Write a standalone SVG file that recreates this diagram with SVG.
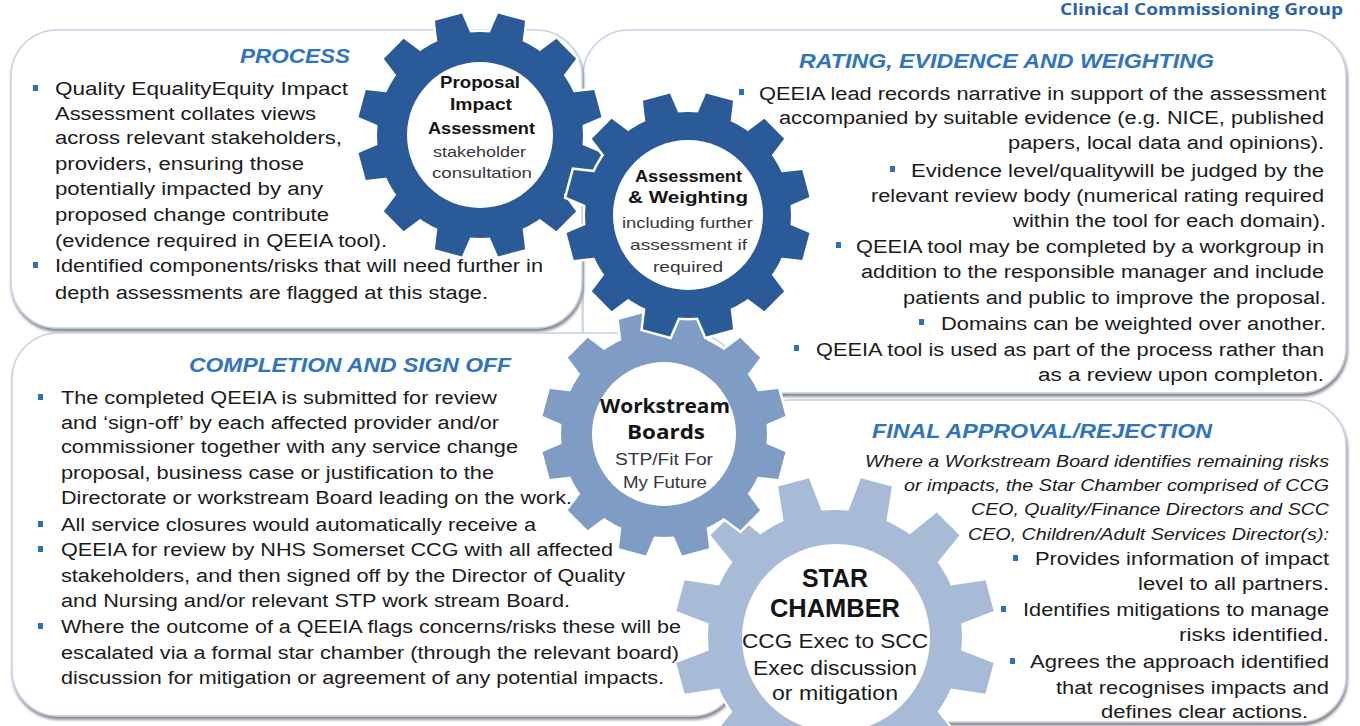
<svg xmlns="http://www.w3.org/2000/svg" xmlns:xlink="http://www.w3.org/1999/xlink" width="1360" height="726" viewBox="0 0 1360 726">
  <style>
    .panel { fill: #ffffff; stroke: #c3d2e6; stroke-width: 1.5; }
    .title { font-family: "Liberation Sans", Arial, sans-serif; font-weight: bold; font-style: italic; font-size: 21px; fill: #2f74c4; }
    .body { font-family: "Liberation Sans", Arial, sans-serif; font-size: 18px; fill: #1b1b1b; }
    .note { font-family: "Liberation Sans", Arial, sans-serif; font-style: italic; font-size: 16px; fill: #1b1b1b; }
    .bullet { fill: #2e6fc0; }
    .gear-bold { font-family: "Liberation Sans", Arial, sans-serif; font-weight: bold; font-size: 17px; fill: #141414; }
    .gear-sub { font-family: "Liberation Sans", Arial, sans-serif; font-size: 15px; fill: #3a3440; }
    .halo { fill: #ffffff; stroke: #ffffff; stroke-width: 5; }
    .header { font-family: "Open Sans", "Liberation Sans", sans-serif; font-weight: bold; font-size: 16px; fill: #2b62ad; }
  </style>
  <defs>
    <filter id="shadow" x="-5%" y="-5%" width="110%" height="115%">
      <feDropShadow dx="1" dy="3" stdDeviation="1.5" flood-color="#5f5f5f" flood-opacity="0.75"/>
    </filter>
    <!-- one gear tooth pointing up, tapered towards the tip -->
    <polygon id="tooth" points="-17.5,-98 -14,-122 14,-122 17.5,-98"/>
    <!-- gear silhouette: root disc plus twelve teeth -->
    <g id="gear-body">
      <circle r="103"/>
      <use href="#tooth" transform="rotate(15)"/>
      <use href="#tooth" transform="rotate(45)"/>
      <use href="#tooth" transform="rotate(75)"/>
      <use href="#tooth" transform="rotate(105)"/>
      <use href="#tooth" transform="rotate(135)"/>
      <use href="#tooth" transform="rotate(165)"/>
      <use href="#tooth" transform="rotate(195)"/>
      <use href="#tooth" transform="rotate(225)"/>
      <use href="#tooth" transform="rotate(255)"/>
      <use href="#tooth" transform="rotate(285)"/>
      <use href="#tooth" transform="rotate(315)"/>
      <use href="#tooth" transform="rotate(345)"/>
    </g>
    <!-- larger gear with longer teeth -->
    <polygon id="tooth-large" points="-20,-122 -16,-160 16,-160 20,-122"/>
    <g id="gear-body-large">
      <circle r="127"/>
      <use href="#tooth-large" transform="rotate(15)"/>
      <use href="#tooth-large" transform="rotate(45)"/>
      <use href="#tooth-large" transform="rotate(75)"/>
      <use href="#tooth-large" transform="rotate(105)"/>
      <use href="#tooth-large" transform="rotate(135)"/>
      <use href="#tooth-large" transform="rotate(165)"/>
      <use href="#tooth-large" transform="rotate(195)"/>
      <use href="#tooth-large" transform="rotate(225)"/>
      <use href="#tooth-large" transform="rotate(255)"/>
      <use href="#tooth-large" transform="rotate(285)"/>
      <use href="#tooth-large" transform="rotate(315)"/>
      <use href="#tooth-large" transform="rotate(345)"/>
    </g>
  </defs>

  <rect width="1360" height="726" fill="#ffffff"/>

  <text class="header" x="1060" y="15" textLength="283" lengthAdjust="spacingAndGlyphs">Clinical Commissioning Group</text>

  <!-- RATING, EVIDENCE AND WEIGHTING panel -->
  <g id="panel-rating">
    <rect class="panel" x="583" y="30" width="763" height="363" rx="46" filter="url(#shadow)"/>
    <text class="title" x="799" y="68" textLength="415" lengthAdjust="spacingAndGlyphs">RATING, EVIDENCE AND WEIGHTING</text>
    <rect class="bullet" x="739" y="89" width="5" height="6"/>
    <text class="body" x="759" y="100" textLength="567" lengthAdjust="spacingAndGlyphs">QEEIA lead records narrative in support of the assessment</text>
    <text class="body" x="779" y="124" textLength="545" lengthAdjust="spacingAndGlyphs">accompanied by suitable evidence (e.g. NICE, published</text>
    <text class="body" x="1008" y="149" textLength="316" lengthAdjust="spacingAndGlyphs">papers, local data and opinions).</text>
    <rect class="bullet" x="890" y="166" width="5" height="6"/>
    <text class="body" x="911" y="177" textLength="413" lengthAdjust="spacingAndGlyphs">Evidence level/qualitywill be judged by the</text>
    <text class="body" x="871" y="202" textLength="453" lengthAdjust="spacingAndGlyphs">relevant review body (numerical rating required</text>
    <text class="body" x="1013" y="227" textLength="313" lengthAdjust="spacingAndGlyphs">within the tool for each domain).</text>
    <rect class="bullet" x="836" y="242" width="5" height="6"/>
    <text class="body" x="856" y="253" textLength="468" lengthAdjust="spacingAndGlyphs">QEEIA tool may be completed by a workgroup in</text>
    <text class="body" x="861" y="278" textLength="463" lengthAdjust="spacingAndGlyphs">addition to the responsible manager and include</text>
    <text class="body" x="903" y="304" textLength="423" lengthAdjust="spacingAndGlyphs">patients and public to improve the proposal.</text>
    <rect class="bullet" x="919" y="319" width="5" height="6"/>
    <text class="body" x="941" y="330" textLength="385" lengthAdjust="spacingAndGlyphs">Domains can be weighted over another.</text>
    <rect class="bullet" x="794" y="345" width="5" height="6"/>
    <text class="body" x="816" y="356" textLength="508" lengthAdjust="spacingAndGlyphs">QEEIA tool is used as part of the process rather than</text>
    <text class="body" x="1038" y="381" textLength="286" lengthAdjust="spacingAndGlyphs">as a review upon completon.</text>
  </g>

  <!-- PROCESS panel -->
  <g id="panel-process">
    <rect class="panel" x="11" y="30" width="571" height="298" rx="46" filter="url(#shadow)"/>
    <text class="title" x="240" y="63" textLength="110" lengthAdjust="spacingAndGlyphs">PROCESS</text>
    <rect class="bullet" x="33" y="85" width="5" height="6"/>
    <text class="body" x="55" y="95" textLength="293" lengthAdjust="spacingAndGlyphs">Quality EqualityEquity Impact</text>
    <text class="body" x="55" y="120" textLength="261" lengthAdjust="spacingAndGlyphs">Assessment collates views</text>
    <text class="body" x="55" y="144" textLength="287" lengthAdjust="spacingAndGlyphs">across relevant stakeholders,</text>
    <text class="body" x="55" y="170" textLength="249" lengthAdjust="spacingAndGlyphs">providers, ensuring those</text>
    <text class="body" x="55" y="195" textLength="268" lengthAdjust="spacingAndGlyphs">potentially impacted by any</text>
    <text class="body" x="55" y="221" textLength="274" lengthAdjust="spacingAndGlyphs">proposed change contribute</text>
    <text class="body" x="55" y="247" textLength="332" lengthAdjust="spacingAndGlyphs">(evidence required in QEEIA tool).</text>
    <rect class="bullet" x="33" y="262" width="5" height="6"/>
    <text class="body" x="55" y="272" textLength="488" lengthAdjust="spacingAndGlyphs">Identified components/risks that will need further in</text>
    <text class="body" x="55" y="299" textLength="433" lengthAdjust="spacingAndGlyphs">depth assessments are flagged at this stage.</text>
  </g>

  <!-- FINAL APPROVAL/REJECTION panel -->
  <g id="panel-final">
    <rect class="panel" x="745" y="400" width="601" height="322" rx="46" filter="url(#shadow)"/>
    <text class="title" x="872" y="438" textLength="340" lengthAdjust="spacingAndGlyphs">FINAL APPROVAL/REJECTION</text>
    <text class="note" x="865" y="467" textLength="464" lengthAdjust="spacingAndGlyphs">Where a Workstream Board identifies remaining risks</text>
    <text class="note" x="904" y="491" textLength="425" lengthAdjust="spacingAndGlyphs">or impacts, the Star Chamber comprised of CCG</text>
    <text class="note" x="971" y="515" textLength="358" lengthAdjust="spacingAndGlyphs">CEO, Quality/Finance Directors and SCC</text>
    <text class="note" x="968" y="540" textLength="361" lengthAdjust="spacingAndGlyphs">CEO, Children/Adult Services Director(s):</text>
    <rect class="bullet" x="1013" y="555" width="5" height="6"/>
    <text class="body" x="1035" y="565" textLength="294" lengthAdjust="spacingAndGlyphs">Provides information of impact</text>
    <text class="body" x="1138" y="590" textLength="191" lengthAdjust="spacingAndGlyphs">level to all partners.</text>
    <rect class="bullet" x="1001" y="606" width="5" height="6"/>
    <text class="body" x="1023" y="616" textLength="306" lengthAdjust="spacingAndGlyphs">Identifies mitigations to manage</text>
    <text class="body" x="1179" y="641" textLength="150" lengthAdjust="spacingAndGlyphs">risks identified.</text>
    <rect class="bullet" x="1010" y="658" width="5" height="6"/>
    <text class="body" x="1030" y="668" textLength="299" lengthAdjust="spacingAndGlyphs">Agrees the approach identified</text>
    <text class="body" x="1056" y="694" textLength="273" lengthAdjust="spacingAndGlyphs">that recognises impacts and</text>
    <text class="body" x="1101" y="718" textLength="207" lengthAdjust="spacingAndGlyphs">defines clear actions.</text>
  </g>

  <!-- COMPLETION AND SIGN OFF panel -->
  <g id="panel-completion">
    <rect class="panel" x="12" y="333" width="726" height="383" rx="46" filter="url(#shadow)"/>
    <text class="title" x="189" y="372" textLength="322" lengthAdjust="spacingAndGlyphs">COMPLETION AND SIGN OFF</text>
    <rect class="bullet" x="38" y="394" width="5" height="6"/>
    <text class="body" x="61" y="404" textLength="436" lengthAdjust="spacingAndGlyphs">The completed QEEIA is submitted for review</text>
    <text class="body" x="61" y="429" textLength="438" lengthAdjust="spacingAndGlyphs">and ‘sign-off’ by each affected provider and/or</text>
    <text class="body" x="61" y="453" textLength="457" lengthAdjust="spacingAndGlyphs">commissioner together with any service change</text>
    <text class="body" x="61" y="479" textLength="433" lengthAdjust="spacingAndGlyphs">proposal, business case or justification to the</text>
    <text class="body" x="61" y="504" textLength="511" lengthAdjust="spacingAndGlyphs">Directorate or workstream Board leading on the work.</text>
    <rect class="bullet" x="38" y="521" width="5" height="6"/>
    <text class="body" x="61" y="531" textLength="475" lengthAdjust="spacingAndGlyphs">All service closures would automatically receive a</text>
    <rect class="bullet" x="38" y="546" width="5" height="6"/>
    <text class="body" x="61" y="556" textLength="552" lengthAdjust="spacingAndGlyphs">QEEIA for review by NHS Somerset CCG with all affected</text>
    <text class="body" x="61" y="582" textLength="564" lengthAdjust="spacingAndGlyphs">stakeholders, and then signed off by the Director of Quality</text>
    <text class="body" x="61" y="607" textLength="509" lengthAdjust="spacingAndGlyphs">and Nursing and/or relevant STP work stream Board.</text>
    <rect class="bullet" x="38" y="623" width="5" height="6"/>
    <text class="body" x="61" y="633" textLength="620" lengthAdjust="spacingAndGlyphs">Where the outcome of a QEEIA flags concerns/risks these will be</text>
    <text class="body" x="61" y="659" textLength="618" lengthAdjust="spacingAndGlyphs">escalated via a formal star chamber (through the relevant board)</text>
    <text class="body" x="61" y="684" textLength="603" lengthAdjust="spacingAndGlyphs">discussion for mitigation or agreement of any potential impacts.</text>
  </g>

  <!-- STAR CHAMBER gear -->
  <g id="gear-star-chamber">
    <g transform="translate(835,637)">
      <use href="#gear-body-large" class="halo" style="stroke-width:4"/>
      <use href="#gear-body-large" fill="#a7bbd7"/>
    </g>
    <circle cx="836" cy="638" r="94" fill="#ffffff"/>
    <text class="gear-bold" x="802" y="587" style="font-size:25px" textLength="66" lengthAdjust="spacingAndGlyphs">STAR</text>
    <text class="gear-bold" x="770" y="617" style="font-size:25px" textLength="130" lengthAdjust="spacingAndGlyphs">CHAMBER</text>
    <text class="gear-sub" x="742" y="648" style="font-size:21px;fill:#1b1b1b" textLength="186" lengthAdjust="spacingAndGlyphs">CCG Exec to SCC</text>
    <text class="gear-sub" x="753" y="675" style="font-size:21px;fill:#1b1b1b" textLength="164" lengthAdjust="spacingAndGlyphs">Exec discussion</text>
    <text class="gear-sub" x="772" y="700" style="font-size:21px;fill:#1b1b1b" textLength="126" lengthAdjust="spacingAndGlyphs">or mitigation</text>
  </g>

  <!-- Workstream Boards gear -->
  <g id="gear-workstream">
    <g transform="translate(664,434)">
      <use href="#gear-body" class="halo"/>
      <use href="#gear-body" fill="#7f9dc4"/>
    </g>
    <circle cx="664" cy="434" r="72" fill="#ffffff"/>
    <text class="gear-bold" x="600" y="413" style="font-family:'Open Sans','Liberation Sans',sans-serif;font-size:20px" textLength="130" lengthAdjust="spacingAndGlyphs">Workstream</text>
    <text class="gear-bold" x="627" y="439" style="font-family:'Open Sans','Liberation Sans',sans-serif;font-size:20px" textLength="78" lengthAdjust="spacingAndGlyphs">Boards</text>
    <text class="gear-sub" x="615" y="465" style="font-size:16px" textLength="98" lengthAdjust="spacingAndGlyphs">STP/Fit For</text>
    <text class="gear-sub" x="623" y="488" style="font-size:16px" textLength="84" lengthAdjust="spacingAndGlyphs">My Future</text>
  </g>

  <!-- Proposal Impact Assessment gear -->
  <g id="gear-proposal">
    <g transform="translate(480,135)">
      <use href="#gear-body" class="halo"/>
      <use href="#gear-body" fill="#2a5a97"/>
    </g>
    <circle cx="480" cy="135" r="73" fill="#ffffff"/>
    <text class="gear-bold" x="440" y="88" textLength="80" lengthAdjust="spacingAndGlyphs">Proposal</text>
    <text class="gear-bold" x="450" y="110" textLength="62" lengthAdjust="spacingAndGlyphs">Impact</text>
    <text class="gear-bold" x="428" y="134" textLength="107" lengthAdjust="spacingAndGlyphs">Assessment</text>
    <text class="gear-sub" x="433" y="157" textLength="93" lengthAdjust="spacingAndGlyphs">stakeholder</text>
    <text class="gear-sub" x="432" y="178" textLength="100" lengthAdjust="spacingAndGlyphs">consultation</text>
  </g>

  <!-- Assessment & Weighting gear -->
  <g id="gear-weighting">
    <g transform="translate(688,215)">
      <use href="#gear-body" class="halo"/>
      <use href="#gear-body" fill="#2a5a97"/>
    </g>
    <circle cx="688" cy="215" r="75" fill="#ffffff"/>
    <text class="gear-bold" x="635" y="182" textLength="107" lengthAdjust="spacingAndGlyphs">Assessment</text>
    <text class="gear-bold" x="628" y="203" textLength="120" lengthAdjust="spacingAndGlyphs">&amp; Weighting</text>
    <text class="gear-sub" x="622" y="228" textLength="131" lengthAdjust="spacingAndGlyphs">including further</text>
    <text class="gear-sub" x="630" y="250" textLength="117" lengthAdjust="spacingAndGlyphs">assessment if</text>
    <text class="gear-sub" x="653" y="272" textLength="70" lengthAdjust="spacingAndGlyphs">required</text>
  </g>

  <g id="connectors"/>
</svg>
